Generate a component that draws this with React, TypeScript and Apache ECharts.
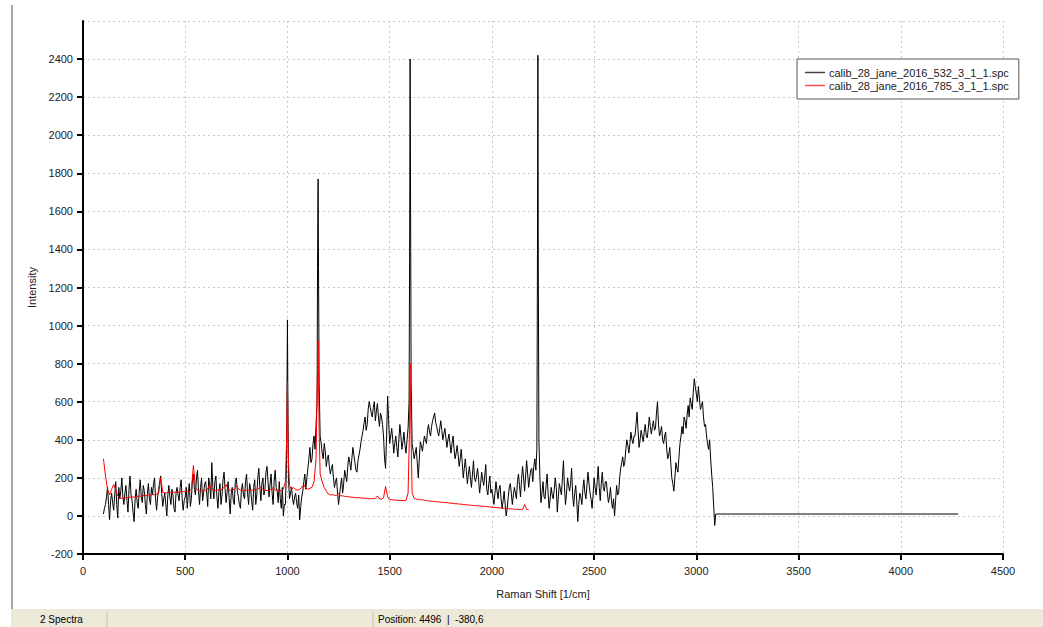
import React, { useEffect, useRef } from "react";
import * as echarts from "echarts";

// ---- Data (Raman Shift [1/cm] vs Intensity) ----
const seriesNames = ["calib_28_jane_2016_532_3_1_1.spc", "calib_28_jane_2016_785_3_1_1.spc"];

const xTicks = { min: 0, max: 4500, interval: 500 };
const yTicks = { min: -200, max: 2600, interval: 200 };

// 532 nm spectrum, sampled every 10 1/cm starting at 100
const blackStart = 100;
const blackStep = 10;
const black100to990 = [
  10, 60, 150, -20, 120, 30, 180, -10, 90, 200,
  60, 160, 20, 210, 80, -30, 140, 40, 190, 70,
  130, 10, 170, 60, 110, 200, 30, 140, 210, 50,
  120, 0, 160, 60, 110, 20, 150, 80, 190, 30,
  100, 40, 170, 90, 220, 110, 240, 60, 200, 120,
  180, 50, 160, 280, 90, 210, 40, 170, 110, 230,
  70, 180, 10, 150, 60, 200, 100, 40, 170, 90,
  220, 60, 140, 30, 190, 110, 250, 80, 200, 140,
  260, 100, 220, 60, 240, 130, 180, 40, 0, 60,
];
const black1000to1990 = [
  1030, 90, 150, 60, 120, 40, -20, 100, 180, 140,
  250, 360, 300, 420, 480, 1770, 420, 330, 380, 260,
  320, 220, 270, 150, 200, 60, 160, 120, 240, 180,
  310, 240, 360, 280, 230, 320, 390, 450, 520, 480,
  600, 540, 570, 500, 590, 470, 520, 420, 250, 630,
  380, 460, 330, 420, 310, 480, 350, 440, 330, 460,
  2400, 380, 300, 360, 200, 390, 340, 420, 380, 480,
  420, 500, 540, 470, 420, 500, 400, 460, 360, 430,
  330, 420, 300, 370, 260, 350, 200, 300, 170, 260,
  150, 290, 180, 250, 120, 230, 160, 270, 110, 210,
];
const black2000to3090 = [
  140, 60, 180, 90, 160, 40, 130, 0, 100, 170,
  60, 150, 90, 220, 100, 260, 130, 290, 150, 240,
  180, 300, 350, 400, 70, 180, 90, 220, 40, 150,
  90, 200, 20, 170, 110, 290, 60, 200, 130, 250,
  50, 160, -30, 120, 60, 190, 90, 230, 120, 40,
  200, 110, 260, 80, 230, 130, 180, 70, 150, 40,
  0, 160, 120, 250, 310, 280, 400, 330, 440, 380,
  420, 545, 360, 450, 390, 480, 410, 520, 430, 500,
  460, 600, 420, 470, 380, 440, 300, 360, 200, 130,
  280, 230, 380, 470, 520, 460, 580, 620, 560, 720,
  640, 680, 560, 600, 470, 420, 350, 300, 150, -50,
];
// same spectrum, readings in between (105, 115, ...)
const blackMidStart = 105;
const blackMid105to995 = [
  40, 100, 60, 80, 70, 110, 60, 150, 130, 100,
  120, 80, 140, 110, 20, 90, 70, 130, 100, 160,
  60, 120, 90, 150, 170, 90, 100, 180, 120, 90,
  60, 110, 100, 140, 40, 120, 110, 150, 90, 80,
  150, 120, 50, 180, 140, 200, 130, 150, 80, 170,
  120, 200, 90, 150, 180, 100, 130, 60, 190, 140,
  130, 90, 120, 80, 180, 130, 60, 140, 110, 180,
  120, 170, 80, 150, 60, 200, 150, 170, 110, 230,
  180, 170, 120, 180, 150, 70, 90, 150, 60, 250,
];
const blackMid1005to1995 = [
  200, 120, 90, 100, 70, 110, 50, 130, 220, 200,
  300, 280, 380, 350, 600, 700, 380, 300, 340, 300,
  260, 250, 200, 180, 120, 110, 200, 170, 210, 260,
  280, 300, 320, 240, 290, 350, 420, 490, 450, 560,
  570, 520, 600, 550, 520, 540, 480, 300, 420, 500,
  420, 400, 380, 360, 400, 420, 390, 370, 400, 600,
  700, 340, 330, 280, 300, 370, 380, 400, 450, 440,
  470, 520, 490, 440, 460, 450, 430, 410, 400, 380,
  380, 350, 330, 320, 300, 280, 250, 240, 220, 200,
  220, 200, 210, 190, 170, 190, 210, 140, 170, 120,
];
const blackMid2005to3085 = [
  100, 120, 130, 140, 90, 80, 60, 40, 150, 120,
  110, 120, 180, 160, 190, 200, 210, 220, 200, 250,
  260, 240, 2420, 200, 120, 100, 160, 120, 90, 110,
  140, 150, 100, 140, 200, 150, 120, 160, 170, 110,
  120, 80, 60, 100, 140, 120, 160, 170, 90, 110,
  150, 180, 150, 170, 150, 180, 120, 100, 80, 90,
  80, 110, 200, 280, 260, 350, 370, 380, 400, 420,
  480, 450, 400, 420, 440, 420, 460, 470, 470, 450,
  540, 480, 440, 400, 420, 350, 320, 280, 170, 200,
  250, 310, 420, 430, 500, 530, 520, 590, 650, 680,
  600, 620, 580, 520, 480, 380, 400, 220, 50,
];
// extra points resolving the sharp bands and the flat tail
const blackPeakPoints: [number, number][] = [
  [998, 700], [1002, 650],
  [1147, 1250], [1149, 1650], [1152, 1300],
  [1598, 1500], [1603, 1400],
  [2223, 1400], [2227, 1300],
  [3095, 10], [4280, 10],
];

// 785 nm spectrum, sampled every 10 1/cm starting at 100
const redStart = 100;
const redStep = 10;
const red100to1090 = [
  300, 210, 140, 110, 140, 165, 140, 105, 95, 92,
  93, 95, 96, 98, 100, 99, 102, 104, 103, 106,
  108, 107, 110, 109, 112, 111, 114, 118, 200, 125,
  122, 121, 124, 123, 125, 124, 126, 125, 127, 128,
  127, 129, 130, 140, 265, 150, 135, 132, 131, 133,
  135, 140, 165, 140, 135, 134, 136, 138, 140, 150,
  165, 140, 135, 134, 140, 160, 142, 136, 135, 133,
  134, 135, 134, 136, 137, 140, 145, 150, 138, 135,
  133, 135, 140, 148, 136, 134, 132, 133, 140, 180,
  700, 160, 140, 150, 138, 135, 140, 150, 165, 145,
];
const red1100to2180 = [
  140, 145, 150, 180, 300, 920, 220, 180, 150, 130,
  115, 110, 112, 108, 109, 118, 105, 106, 102, 103,
  100, 99, 98, 97, 95, 96, 94, 95, 92, 93,
  90, 91, 90, 92, 105, 90, 88, 95, 155, 100,
  85, 86, 83, 84, 82, 81, 80, 81, 82, 120,
  800, 120, 92, 88, 87, 85, 85, 82, 81, 78,
  78, 76, 76, 74, 74, 72, 72, 70, 70, 68,
  67, 66, 64, 64, 62, 62, 60, 59, 58, 57,
  56, 55, 54, 53, 52, 51, 50, 50, 48, 47,
  46, 45, 44, 43, 42, 41, 40, 39, 38, 37,
  36, 35, 35, 34, 34, 33, 60, 35, 33,
];
const redPeakPoints: [number, number][] = [
  [996, 400], [1003, 350],
  [1145, 650], [1155, 450],
  [1596, 400], [1604, 450],
];

const statusTexts = ["2 Spectra", "Position: 4496  |  -380,6"];
const axisNames = { x: "Raman Shift [1/cm]", y: "Intensity" };

function gridPoints(start: number, step: number, chunks: number[][]) {
  const pts: [number, number][] = [];
  let i = 0;
  chunks.forEach((chunk) => {
    chunk.forEach((v) => {
      pts.push([start + i * step, v]);
      i++;
    });
  });
  return pts;
}

const FONT = "'Liberation Sans', Arial, sans-serif";

export default function App() {
  const ref = useRef<HTMLDivElement>(null);
  useEffect(() => {
    document.body.style.margin = "0";
    const chart = echarts.init(ref.current!, undefined, { renderer: "svg" });
    const blackData = [
      ...gridPoints(blackStart, blackStep, [black100to990, black1000to1990, black2000to3090]),
      ...gridPoints(blackMidStart, blackStep, [blackMid105to995, blackMid1005to1995, blackMid2005to3085]),
      ...blackPeakPoints,
    ].sort((a, b) => a[0] - b[0]);
    const redData = [
      ...gridPoints(redStart, redStep, [red100to1090, red1100to2180]),
      ...redPeakPoints,
    ].sort((a, b) => a[0] - b[0]);
    const plain = (v: number) => String(v);
    chart.setOption({
      animation: false,
      backgroundColor: "#ffffff",
      textStyle: { fontFamily: FONT },
      grid: { left: 83, top: 21, right: 40, bottom: 73, containLabel: false },
      legend: {
        data: [
          { name: seriesNames[0], itemStyle: { color: "#444444", borderWidth: 0 } },
          { name: seriesNames[1], itemStyle: { color: "#ff5050", borderWidth: 0 } },
        ],
        orient: "vertical",
        left: 797,
        top: 59,
        padding: [7, 10, 7, 8],
        itemGap: 0,
        itemWidth: 20,
        itemHeight: 1.5,
        icon: "rect",
        backgroundColor: "#ffffff",
        borderColor: "#555555",
        borderWidth: 1,
        borderRadius: 0,
        textStyle: { fontSize: 11, color: "#222", fontFamily: FONT, padding: [0, 0, 0, -1], lineHeight: 13 },
      },
      xAxis: {
        type: "value",
        min: xTicks.min,
        max: xTicks.max,
        interval: xTicks.interval,
        name: axisNames.x,
        nameLocation: "middle",
        nameGap: 34,
        nameTextStyle: { fontSize: 11, color: "#222", fontFamily: FONT },
        axisLine: { show: true, onZero: false, lineStyle: { color: "#000", width: 2 } },
        axisTick: { show: true, length: 6, lineStyle: { color: "#000", width: 2 } },
        axisLabel: { fontSize: 11, color: "#222", margin: 11, fontFamily: FONT, formatter: plain },
        splitLine: { show: true, lineStyle: { color: "#c8c8c8", type: [2, 3], width: 1 } },
      },
      yAxis: {
        type: "value",
        min: yTicks.min,
        max: yTicks.max,
        interval: yTicks.interval,
        name: axisNames.y,
        nameLocation: "middle",
        nameGap: 42,
        nameRotate: 90,
        nameTextStyle: { fontSize: 11, color: "#222", fontFamily: FONT },
        axisLine: { show: true, onZero: false, lineStyle: { color: "#000", width: 2 } },
        axisTick: { show: true, length: 6, lineStyle: { color: "#000", width: 2 } },
        axisLabel: { fontSize: 11, color: "#222", margin: 10, showMaxLabel: false, fontFamily: FONT, formatter: plain },
        splitLine: { show: true, lineStyle: { color: "#c8c8c8", type: [2, 3], width: 1 } },
      },
      series: [
        {
          name: seriesNames[0],
          type: "line",
          data: blackData,
          showSymbol: false,
          symbol: "none",
          lineStyle: { color: "#000000", width: 1 },
          itemStyle: { color: "#000000" },
          z: 3,
        },
        {
          name: seriesNames[1],
          type: "line",
          data: redData,
          showSymbol: false,
          symbol: "none",
          lineStyle: { color: "#ff0000", width: 1 },
          itemStyle: { color: "#ff0000" },
          z: 4,
        },
      ],
      graphic: [
        { type: "line", shape: { x1: 12, y1: 5, x2: 12, y2: 609 }, style: { stroke: "#aca899", lineWidth: 2 } },
        { type: "rect", shape: { x: 11, y: 609, width: 1032, height: 18 }, style: { fill: "#ece9d8" } },
        { type: "line", shape: { x1: 107, y1: 611, x2: 107, y2: 627 }, style: { stroke: "#c5c2b2", lineWidth: 1 } },
        { type: "line", shape: { x1: 373, y1: 611, x2: 373, y2: 627 }, style: { stroke: "#c5c2b2", lineWidth: 1 } },
        { type: "text", x: 40, y: 619, style: { text: statusTexts[0], fontSize: 10, fill: "#000", fontFamily: FONT, verticalAlign: "middle" } },
        { type: "text", x: 378, y: 619, style: { text: statusTexts[1], fontSize: 10, fill: "#000", fontFamily: FONT, verticalAlign: "middle" } },
      ],
    });
    return () => chart.dispose();
  }, []);
  return <div ref={ref} style={{ position: "absolute", left: 0, top: 0, width: 1043, height: 627 }} />;
}
